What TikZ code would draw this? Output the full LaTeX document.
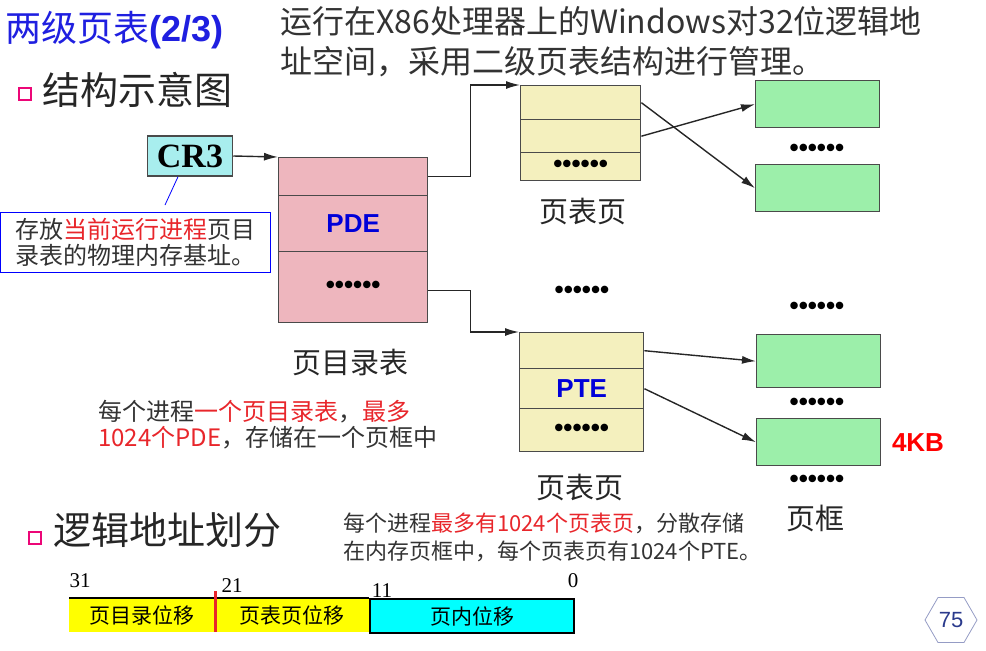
\documentclass[tikz,border=0pt]{standalone}
\usepackage{fontspec}
\setmainfont{Noto Sans CJK SC}
\newfontfamily\arialf{Liberation Sans}
\newfontfamily\timesf{Liberation Serif}
\usetikzlibrary{arrows.meta,shapes.geometric,positioning}
\definecolor{txtgray}{HTML}{333333}
\definecolor{ttlblue}{HTML}{1F1FE0}
\definecolor{hlred}{HTML}{E8262B}
\definecolor{pdepink}{HTML}{EEB6BE}
\definecolor{ptyellow}{HTML}{F4F0BE}
\definecolor{pfgreen}{HTML}{9CEFAA}
\definecolor{crcyan}{HTML}{A8EEEE}
\definecolor{boxgray}{HTML}{4A4A4A}
\definecolor{numblue}{HTML}{2A3A8C}
\definecolor{segyellow}{HTML}{FFFF00}
\definecolor{segcyan}{HTML}{00FFFF}

\begin{document}
\begin{tikzpicture}[x=1pt,y=-1pt,
  cell/.style={draw=boxgray,line width=1.4pt,inner sep=0,anchor=north west},
  pde/.style={cell,fill=pdepink,minimum width=149pt},
  pte/.style={cell,fill=ptyellow},
  frame box/.style={cell,fill=pfgreen,minimum width=124pt},
  ptr/.style={draw=black!85,line width=1.4pt,-{Latex[length=14pt,width=8pt]}},
  lbl/.style={inner sep=0,text=black!85,font=\fontsize{29}{32}\selectfont},
  dotrow/.style={inner sep=0,font=\arialf\bfseries\fontsize{26}{26}\selectfont},
  entry/.style={text=blue!85!black,font=\arialf\bfseries\fontsize{26}{26}\selectfont},
  bitseg/.style={inner sep=0,anchor=north west,minimum height=34pt,font=\fontsize{21}{21}\selectfont},
  bitnum/.style={inner sep=0,font=\timesf\fontsize{21}{21}\selectfont},
  bullet/.style={draw=magenta!80!red,line width=2pt,minimum size=12pt,inner sep=0},
  heading/.style={anchor=west,inner sep=0,text=black!85,font=\fontsize{38}{38}\selectfont}]

\useasboundingbox (0,0) rectangle (986,651);

\node[anchor=west,inner sep=0,text=ttlblue,font=\fontsize{36}{36}\selectfont] (title) at (5,30) {两级页表{\arialf\bfseries (2/3)}};
\node[anchor=north west,inner sep=0,align=left,text=txtgray,font=\fontsize{32}{40}\selectfont] (intro) at (280,6)
  {运行在X86处理器上的Windows对32位逻辑地\\址空间，采用二级页表结构进行管理。};

\node[bullet] (b1) at (25,94) {};
\node[heading] (sec1) at (42,90) {结构示意图};
\node[bullet] (b2) at (35,538) {};
\node[heading] (sec2) at (53,530) {逻辑地址划分};

\node[draw=boxgray,line width=1.5pt,fill=crcyan,minimum width=85pt,minimum height=40pt,inner sep=0,
  font=\timesf\bfseries\fontsize{34}{34}\selectfont] (cr3) at (190,156) {CR3};
\node[draw=blue,line width=1pt,anchor=north west,inner sep=0,minimum width=270pt,minimum height=60pt,
  align=left,text=txtgray,font=\fontsize{24}{26}\selectfont] (note) at (0,212)
  {存放\textcolor{hlred}{当前运行进程}页目\\录表的物理内存基址。};
\coordinate (notetip) at (165,205);
\draw[blue,line width=0.8pt] ([xshift=-12pt]cr3.south) -- (notetip);

\node[pde,minimum height=38pt] (pde1) at (278,157) {};
\node[pde,minimum height=56pt,entry] (pde2) at (278,195) {PDE};
\node[pde,minimum height=71pt,dotrow] (pde3) at (278,251) {••••••};
\node[lbl] (pdlbl) at (350,363) {页目录表};

\node[pte,minimum width=120pt,minimum height=34pt] (pt1) at (520,85) {};
\node[pte,minimum width=120pt,minimum height=33pt] (pt2) at (520,119) {};
\node[pte,minimum width=120pt,minimum height=28pt,dotrow] (pt3) at (520,152) {••••••};
\node[lbl] (ptlbl1) at (583,212) {页表页};
\node[dotrow] (ptdots) at (582,292) {••••••};

\node[pte,minimum width=124pt,minimum height=36pt] (pb1) at (519,332) {};
\node[pte,minimum width=124pt,minimum height=40pt,entry] (pb2) at (519,368) {PTE};
\node[pte,minimum width=124pt,minimum height=43pt,dotrow] (pb3) at (519,408) {••••••};
\node[lbl] (ptlbl2) at (580,488) {页表页};

\node[frame box,minimum height=47pt] (f1) at (755,80) {};
\node[dotrow] (fd1) at (817,150) {••••••};
\node[frame box,minimum height=47pt] (f2) at (755,164) {};
\node[dotrow] (fd2) at (817,308) {••••••};
\node[frame box,minimum height=53pt] (f3) at (756,334) {};
\node[dotrow] (fd3) at (817,404) {••••••};
\node[frame box,minimum height=47pt] (f4) at (756,418) {};
\node[dotrow] (fd4) at (817,481) {••••••};
\node[lbl] (pflbl) at (815,518) {页框};
\node[inner sep=0,text=red,font=\arialf\bfseries\fontsize{26}{26}\selectfont] (size) at (918,443) {4KB};

\draw[ptr] (cr3.east) -- (pde1.north west);
\draw[ptr] (pde1.east) -- ++(42,0) |- (pt1.north west);
\draw[ptr] ([yshift=-3pt]pde3.east) -- ++(42,0) |- (pb1.north west);
\draw[ptr] (pt1.east) -- (f2.west);
\draw[ptr] (pt2.east) -- (f1.west);
\draw[ptr] (pb1.east) -- (f3.west);
\draw[ptr] (pb2.east) -- (f4.west);

\node[anchor=north west,inner sep=0,align=left,text=txtgray,font=\fontsize{24}{26}\selectfont] (pdenote) at (98,400)
  {每个进程\textcolor{hlred}{一个页目录表}，\textcolor{hlred}{最多}\\\textcolor{hlred}{1024个PDE}，存储在一个页框中};
\node[anchor=north west,inner sep=0,align=left,text=txtgray,font=\fontsize{22}{28}\selectfont] (ptnote) at (343,513)
  {每个进程\textcolor{hlred}{最多有1024个页表页}，分散存储\\在内存页框中，每个页表页有1024个PTE。};

\node[bitseg,fill=segyellow,minimum width=146pt] (seg1) at (69,598) {页目录位移};
\node[bitseg,fill=segyellow,minimum width=154pt] (seg2) at (215,598) {页表页位移};
\node[bitseg,fill=segcyan,draw=black,line width=2pt,minimum width=204pt] (seg3) at (369,598) {页内位移};
\draw[line width=2pt] (seg1.north west) -- (seg3.north west);
\draw[hlred,line width=3pt] ([yshift=7pt]seg2.north west) -- (seg2.south west);
\node[bitnum] (n31) at (80,581) {31};
\node[bitnum] (n21) at (232,586) {21};
\node[bitnum] (n11) at (382,591) {11};
\node[bitnum] (n0) at (573,581) {0};

\node[regular polygon,regular polygon sides=6,draw=numblue!50,line width=0.8pt,minimum size=52pt,inner sep=0,
  text=numblue,font=\arialf\fontsize{22}{22}\selectfont] (pgno) at (951,620) {75};

\end{tikzpicture}
\end{document}
